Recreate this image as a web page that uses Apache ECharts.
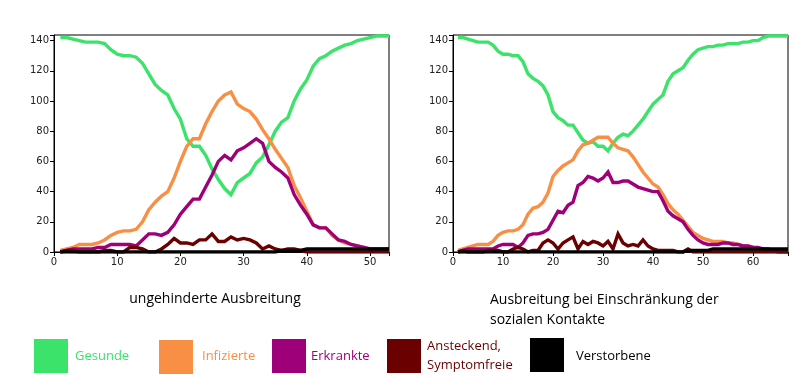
<!DOCTYPE html>
<html><head><meta charset="utf-8">
<script src="https://cdn.jsdelivr.net/npm/echarts@6/dist/echarts.min.js"></script>
<style>html,body{margin:0;padding:0;background:#fff}#c{width:800px;height:379px}</style>
</head><body><div id="c"></div>
<script>
// ---- data ----
var timeLeft = [];  for (var i = 1; i <= 53; i++) timeLeft.push(i);
var timeRight = []; for (var j = 1; j <= 67; j++) timeRight.push(j);

var gesundeLeft = [142,142,141,140,139,139,139,138,134,131,130,130,129,125,118,111,107,104,95,88,75,70,70,64,55,48,42,38,46,49,52,59,63,71,80,86,89,100,108,114,123,128,130,133,135,137,138,140,141,142,143,143,143];
var infizierteLeft = [1,2,3,5,5,5,6,8,11,13,14,14,15,20,28,33,37,40,49,60,70,75,75,85,93,100,104,106,98,95,93,88,81,75,68,62,56,44,36,27,18,16,16,11,8,6,5,4,3,2,1,1,1];
var erkrankteLeft = [0,1,2,2,2,2,3,3,5,5,5,5,4,8,12,12,11,13,18,25,30,35,35,43,51,60,64,61,67,69,72,75,72,60,56,53,49,38,31,25,18,16,16,12,8,7,5,4,3,2,2,2,2];
var ansteckendLeft = [0,1,1,0,0,0,0,1,1,0,0,3,3,2,0,0,2,5,9,6,6,5,8,8,12,7,7,10,8,9,8,6,2,4,2,1,2,2,1,0,0,0,0,0,0,0,0,0,0,0,0,0,0];
var verstorbeneLeft = [0,0,0,0,0,0,0,0,0,0,0,0,0,0,0,0,0,0,0,0,0,0,0,0,0,0,0,0,0,0,0,0,0,0,0,1,1,1,1,2,2,2,2,2,2,2,2,2,2,2,2,2,2];

var gesundeRight = [142,142,141,140,139,139,139,137,133,131,131,130,130,126,118,115,113,110,104,93,89,87,84,84,79,74,72,73,70,70,67,72,76,78,77,80,84,88,93,98,101,104,113,118,120,122,127,131,134,135,136,136,137,137,138,138,138,139,139,140,140,142,143,143,143,143,143];
var infizierteRight = [1,2,3,4,5,5,5,7,11,13,14,14,15,18,25,29,30,33,39,50,54,57,59,61,67,71,72,74,76,76,76,72,69,68,67,63,58,53,49,45,43,38,32,28,25,21,17,13,11,9,8,7,7,7,6,6,5,4,4,3,2,2,1,1,1,1,1];
var erkrankteRight = [0,1,2,2,2,2,2,2,4,5,5,5,3,6,11,12,12,13,15,21,27,26,31,33,44,46,50,49,47,49,53,46,46,47,47,45,43,42,41,40,40,34,27,24,22,20,15,11,8,6,5,5,5,6,6,5,5,4,4,3,3,2,2,1,0,0,0];
var ansteckendRight = [0,1,0,0,0,0,1,1,1,0,0,2,3,2,0,1,1,6,8,6,2,6,8,10,2,7,5,7,6,4,7,2,12,6,4,5,4,8,4,2,1,1,1,1,0,0,2,0,0,0,0,0,0,0,0,0,0,0,0,0,0,0,0,0,0,0,0];
var verstorbeneRight = [0,0,0,0,0,0,0,0,0,0,0,0,0,0,0,0,0,0,0,0,0,0,0,0,0,0,0,0,0,0,0,0,0,0,0,0,0,0,0,0,0,0,0,0,0,0,1,1,1,1,1,2,2,2,2,2,2,2,2,2,2,2,2,2,2,2,2];

var seriesNames = ['Gesunde','Infizierte','Erkrankte','Ansteckend, Symptomfreie','Verstorbene'];
var legendLabels = ['Gesunde','Infizierte','Erkrankte','Ansteckend,\nSymptomfreie','Verstorbene'];
var colors = ['#3BE36A','#F98F45','#9E0079','#6A0000','#000000'];
var yTicks = [0,20,40,60,80,100,120,140];
var xTicksLeft = [0,10,20,30,40,50];
var xTicksRight = [0,10,20,30,40,50,60];
var xMaxLeft = 53, xMaxRight = 67, yMax = 143.7;
var titleLeft = 'ungehinderte Ausbreitung';
var titleRight = 'Ausbreitung bei Einschränkung der\nsozialen Kontakte';

// ---- build ----
function pairs(t, v) { return t.map(function (x, k) { return [x, v[k]]; }); }
var leftSets = [gesundeLeft, infizierteLeft, erkrankteLeft, ansteckendLeft, verstorbeneLeft];
var rightSets = [gesundeRight, infizierteRight, erkrankteRight, ansteckendRight, verstorbeneRight];

var series = [];
function addSeries(sets, t, idx) {
  sets.forEach(function (v, k) {
    series.push({ name: seriesNames[k], type: 'line', xAxisIndex: idx, yAxisIndex: idx, data: pairs(t, v),
      showSymbol: false, lineStyle: { width: 3.4, color: colors[k], join: 'miter' }, itemStyle: { color: colors[k] },
      z: 2 + k, animation: false });
  });
}
addSeries(leftSets, timeLeft, 0);
addSeries(rightSets, timeRight, 1);

function xAx(idx, max, ticks) {
  return { type: 'value', gridIndex: idx, min: 0, max: max, interval: 10,
    axisLine: { show: true, onZero: false, lineStyle: { color: '#000', width: 1 } },
    axisTick: { show: true, length: 4, lineStyle: { color: '#000' } },
    axisLabel: { color: '#222', fontFamily: 'DejaVu Sans', fontSize: 10, margin: 5,
      formatter: function (v) { return ticks.indexOf(v) >= 0 ? String(v) : ''; } },
    splitLine: { show: false } };
}
function yAx(idx) {
  return { type: 'value', gridIndex: idx, min: 0, max: yMax, interval: 20,
    axisLine: { show: true, lineStyle: { color: '#000', width: 1 } },
    axisTick: { show: true, length: 4, lineStyle: { color: '#000' } },
    axisLabel: { color: '#222', fontFamily: 'DejaVu Sans', fontSize: 10, margin: 5,
      formatter: function (v) { return yTicks.indexOf(v) >= 0 ? String(v) : ''; } },
    splitLine: { show: false } };
}

var graphics = [];
var boxX = [34, 159, 272, 387, 530];
var boxY = [339, 340, 339, 339, 338];
var textX = [75, 202, 311, 427, 576];
legendLabels.forEach(function (lab, k) {
  graphics.push({ type: 'rect', left: boxX[k], top: boxY[k], shape: { width: 34, height: 34 }, style: { fill: colors[k] } });
  graphics.push({ type: 'text', left: textX[k], top: k === 3 ? 337 : 347,
    style: { text: lab, fill: colors[k], font: '13px "Open Sans"', lineHeight: 19 } });
});
graphics.push({ type: 'text', x: 215, y: 292, style: { text: titleLeft, fill: '#000', font: '14px "Open Sans"', align: 'center', verticalAlign: 'top' } });
graphics.push({ type: 'text', x: 490, y: 290, style: { text: titleRight, fill: '#000', font: '14px "Open Sans"', align: 'left', verticalAlign: 'top', lineHeight: 20 } });

var chart = echarts.init(document.getElementById('c'), null, { renderer: 'canvas' });
chart.setOption({
  animation: false,
  backgroundColor: '#fff',
  grid: [
    { left: 54, top: 35, width: 335, height: 217, show: true, borderColor: '#000', borderWidth: 1, backgroundColor: 'transparent' },
    { left: 453, top: 35, width: 335, height: 217, show: true, borderColor: '#000', borderWidth: 1, backgroundColor: 'transparent' }
  ],
  xAxis: [xAx(0, xMaxLeft, xTicksLeft), xAx(1, xMaxRight, xTicksRight)],
  yAxis: [yAx(0), yAx(1)],
  series: series,
  graphic: graphics
});
</script></body></html>
